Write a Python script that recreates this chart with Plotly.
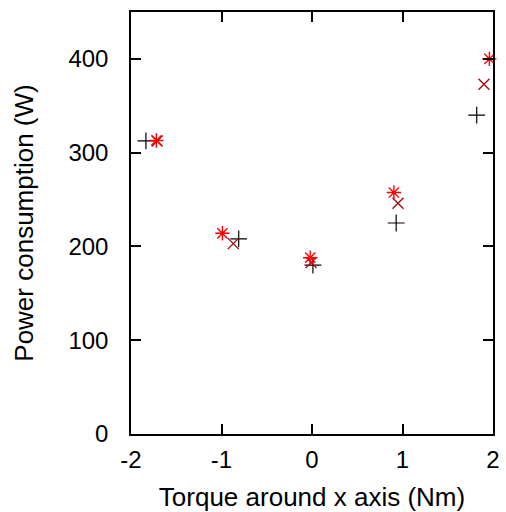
import plotly.graph_objects as go

# Series 1 (black +)
plus_x = [-1.835, -0.81, 0.01, 0.93, 1.82]
plus_y = [312.5, 208, 180, 225, 340]
# Series 2 (dark red x)
cross_x = [-1.71, -0.87, -0.01, 0.95, 1.90]
cross_y = [312.5, 203, 183, 246, 373]
# Series 3 (red asterisk)
star_x = [-1.72, -0.99, -0.02, 0.905, 1.96]
star_y = [313, 214, 188, 257.5, 400]

x_ticks = [-2, -1, 0, 1, 2]
y_ticks = [0, 100, 200, 300, 400]

fig = go.Figure()
fig.add_trace(go.Scatter(x=plus_x, y=plus_y, mode="markers", cliponaxis=False,
                         marker=dict(symbol="cross-thin", size=12, color="black",
                                     line=dict(color="black", width=1.2))))
fig.add_trace(go.Scatter(x=cross_x, y=cross_y, mode="markers", cliponaxis=False,
                         marker=dict(symbol="x-thin", size=11, color="#a01010",
                                     line=dict(color="#a01010", width=1.4))))
fig.add_trace(go.Scatter(x=star_x, y=star_y, mode="markers", cliponaxis=False,
                         marker=dict(symbol="asterisk", size=12, color="#ff0000",
                                     line=dict(color="#ff0000", width=1.4))))

family = "Liberation Sans, Arial, Helvetica, sans-serif"
tick_font = dict(family=family, size=24, color="black")
title_font = dict(family=family, size=26, color="black")
fig.update_layout(
    width=506, height=512,
    margin=dict(l=131, r=12.5, t=11.5, b=78, autoexpand=False),
    paper_bgcolor="white", plot_bgcolor="white",
    showlegend=False,
    font=tick_font,
)
fig.update_xaxes(range=[-2, 2], tickvals=x_ticks, ticktext=[str(v) for v in x_ticks],
                 ticks="inside", ticklen=10, tickwidth=1.5, tickcolor="black",
                 showline=True, linecolor="black", linewidth=1.5, mirror="ticks",
                 showgrid=False, zeroline=False, ticklabelstandoff=3, automargin=False,
                 tickfont=tick_font,
                 title=dict(text="Torque around x axis (Nm)", standoff=19, font=title_font))
fig.update_yaxes(range=[0, 450], tickvals=y_ticks, ticktext=[str(v) for v in y_ticks],
                 ticks="inside", ticklen=10, tickwidth=1.5, tickcolor="black",
                 showline=True, linecolor="black", linewidth=1.5, mirror="ticks",
                 showgrid=False, zeroline=False, ticklabelstandoff=16, automargin=False,
                 tickfont=tick_font,
                 title=dict(text="Power consumption (W)", standoff=27, font=title_font))

fig.write_html("out.html", config={"displayModeBar": False},
               post_script="document.body.style.margin='0';")
